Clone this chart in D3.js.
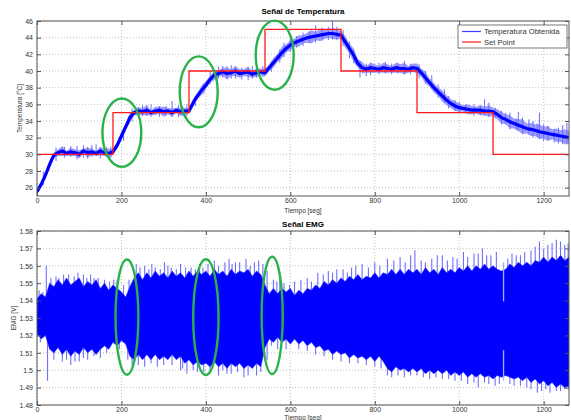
<!DOCTYPE html>
<html>
<head>
<meta charset="utf-8">
<script src="https://cdn.jsdelivr.net/npm/d3@7"></script>
<style>
  body { margin: 0; background: #fff; }
  svg text { font-family: "Liberation Sans", Arial, sans-serif; }
</style>
</head>
<body>
<svg id="chart" width="571" height="420"></svg>
<script>
// sample times (s), one reading every 10 s
const sampleTime = d3.range(0, 1261, 10)

// temperature, every 10 s (°C)
const tempMid = [
  25.5, 26.4, 27.5, 28.8, 29.9, 30.2, 30.4, 30.1, 30.3, 30.2,
  30.0, 30.4, 30.2, 30.3, 30.1, 30.4, 30.2, 30.1, 30.3, 31.1,
  32.2, 33.3, 34.4, 35.0, 35.2, 35.1, 35.3, 35.0, 35.2, 35.3,
  35.1, 35.2, 35.0, 35.3, 35.1, 35.2, 35.2, 36.2, 37.0, 37.7,
  38.3, 39.0, 39.5, 39.7, 39.9, 39.7, 39.8, 40.0, 39.7, 39.8,
  39.9, 39.6, 39.8, 39.9, 39.8, 40.4, 41.0, 41.6, 42.2, 42.7,
  43.1, 43.4, 43.6, 43.8, 44.0, 44.1, 44.2, 44.3, 44.4, 44.5,
  44.5, 44.4, 44.3, 43.5, 42.7, 41.9, 40.9, 40.4, 40.2, 40.4,
  40.3, 40.2, 40.4, 40.3, 40.2, 40.4, 40.3, 40.3, 40.2, 40.4,
  40.3, 39.8, 39.2, 38.6, 38.0, 37.5, 37.0, 36.5, 36.1, 35.8,
  35.6, 35.5, 35.4, 35.3, 35.3, 35.3, 35.2, 35.2, 35.1, 34.8,
  34.4, 34.2, 33.9, 33.7, 33.5, 33.3, 33.1, 33.0, 32.9, 32.7,
  32.6, 32.5, 32.4, 32.3, 32.2, 32.1, 32.0
]
// half width of the fuzzy noise band around it (°C)
const tempNoise = [
  0.2, 0.4, 0.3, 0.5, 0.3, 0.4, 0.6, 0.3, 0.5, 0.4,
  0.5, 0.3, 0.6, 0.4, 0.3, 0.5, 0.4, 0.6, 0.3, 0.4,
  0.5, 0.4, 0.6, 0.3, 0.5, 0.4, 0.6, 0.3, 0.5, 0.4,
  0.6, 0.4, 0.5, 0.3, 0.5, 0.4, 0.3, 0.5, 0.4, 0.6,
  0.5, 0.4, 0.6, 0.4, 0.5, 0.7, 0.4, 0.6, 0.5, 0.4,
  0.6, 0.4, 0.5, 0.4, 0.5, 0.4, 0.6, 0.5, 0.7, 0.5,
  0.6, 0.5, 0.7, 0.5, 0.6, 0.8, 0.5, 0.7, 0.6, 0.5,
  0.7, 0.6, 0.5, 0.7, 0.6, 0.8, 0.5, 0.7, 0.4, 0.6,
  0.5, 0.4, 0.6, 0.5, 0.4, 0.6, 0.5, 0.7, 0.4, 0.5,
  0.6, 0.5, 0.7, 0.5, 0.6, 0.5, 0.7, 0.6, 0.5, 0.6,
  0.5, 0.4, 0.6, 0.5, 0.4, 0.6, 0.5, 0.7, 0.5, 0.6,
  0.7, 0.6, 0.8, 0.6, 0.7, 0.9, 0.6, 0.8, 0.7, 0.9,
  0.7, 0.9, 0.6, 0.8, 0.7, 0.9, 0.8
]
// visible noise spikes of the temperature: [t, low, high]
const tempSpikes = [
  [15, 26.3, 27.9], [45, 29.2, 30.8], [65, 29.6, 30.9], [80, 29.7, 31.0], [95, 29.4, 31.0],
  [110, 29.6, 31.1], [120, 29.5, 30.9], [130, 29.7, 31.1], [140, 29.8, 31.2], [150, 29.5, 30.8],
  [165, 29.8, 30.9], [175, 29.6, 30.9], [205, 31.6, 33.0], [225, 34.0, 35.5], [250, 34.6, 35.9],
  [260, 34.6, 35.9], [270, 34.5, 36.0], [290, 34.5, 35.8], [305, 34.6, 35.8], [320, 34.5, 36.4],
  [335, 34.5, 35.9], [345, 34.6, 35.7], [355, 34.6, 36.0], [375, 35.8, 37.0], [395, 37.3, 38.5],
  [410, 38.4, 39.9], [430, 39.1, 40.5], [440, 39.2, 40.6], [450, 39.0, 40.6], [460, 39.1, 40.7],
  [470, 39.1, 40.5], [485, 39.0, 40.4], [500, 38.9, 40.5], [510, 39.1, 40.6], [520, 39.2, 40.4],
  [535, 39.3, 40.6], [555, 39.9, 41.1], [575, 41.0, 42.6], [585, 41.7, 43.4], [600, 42.3, 43.9],
  [615, 42.8, 44.2], [630, 43.0, 44.6], [645, 43.4, 44.8], [660, 43.4, 45.5], [675, 43.6, 45.2],
  [690, 43.7, 45.3], [700, 43.8, 46.0], [710, 43.7, 45.3], [725, 43.0, 44.9], [740, 41.5, 43.5],
  [750, 40.9, 42.6], [765, 39.2, 41.2], [780, 39.4, 40.9], [790, 39.5, 41.0], [810, 39.6, 41.0],
  [825, 39.7, 41.1], [840, 39.6, 40.9], [855, 39.7, 41.0], [870, 39.6, 41.2], [885, 39.6, 40.9],
  [905, 39.1, 40.8], [920, 38.5, 40.0], [935, 37.9, 39.5], [950, 36.8, 38.4], [965, 36.3, 37.8],
  [975, 35.5, 37.0], [990, 35.2, 36.5], [1000, 35.0, 36.3], [1015, 35.0, 36.0], [1035, 34.6, 36.0],
  [1050, 34.7, 35.9], [1060, 34.6, 36.6], [1070, 34.5, 36.2], [1085, 34.3, 35.6], [1100, 33.6, 35.2],
  [1110, 33.6, 35.0], [1120, 33.0, 35.0], [1135, 32.9, 34.3], [1140, 32.8, 35.1], [1150, 32.5, 34.4],
  [1165, 32.4, 34.2], [1175, 32.0, 34.0], [1185, 32.1, 33.7], [1190, 31.9, 35.0], [1200, 31.6, 33.6],
  [1210, 31.7, 33.4], [1225, 31.4, 33.0], [1235, 31.3, 33.2], [1245, 31.2, 33.5], [1255, 31.3, 33.8]
]
// set point steps
const spTime = [0, 180, 360, 540, 720, 900, 1080, 1260]
const spValue = [30, 35, 40, 45, 40, 35, 30, 30]

// EMG dense band edges, every 10 s (V)
const emgHi = [
  1.541, 1.544, 1.542, 1.550, 1.548, 1.552, 1.549, 1.553, 1.549, 1.551,
  1.553, 1.548, 1.551, 1.549, 1.552, 1.547, 1.550, 1.546, 1.549, 1.547,
  1.545, 1.542, 1.548, 1.553, 1.556, 1.552, 1.556, 1.553, 1.557, 1.554,
  1.556, 1.553, 1.557, 1.554, 1.556, 1.553, 1.557, 1.554, 1.557, 1.555,
  1.557, 1.554, 1.558, 1.555, 1.557, 1.554, 1.558, 1.555, 1.557, 1.556,
  1.558, 1.554, 1.557, 1.555, 1.549, 1.544, 1.547, 1.544, 1.547, 1.545,
  1.547, 1.543, 1.546, 1.544, 1.547, 1.546, 1.549, 1.547, 1.551, 1.549,
  1.552, 1.550, 1.553, 1.551, 1.554, 1.552, 1.555, 1.552, 1.554, 1.553,
  1.556, 1.553, 1.556, 1.555, 1.558, 1.555, 1.558, 1.555, 1.558, 1.556,
  1.558, 1.555, 1.559, 1.556, 1.558, 1.555, 1.559, 1.556, 1.558, 1.556,
  1.559, 1.557, 1.560, 1.557, 1.560, 1.558, 1.561, 1.558, 1.560, 1.558,
  1.557, 1.558, 1.561, 1.559, 1.562, 1.560, 1.562, 1.560, 1.563, 1.562,
  1.565, 1.562, 1.565, 1.563, 1.566, 1.563, 1.565
]
const emgLo = [
  1.521, 1.518, 1.520, 1.512, 1.510, 1.513, 1.509, 1.512, 1.508, 1.511,
  1.509, 1.513, 1.510, 1.512, 1.509, 1.512, 1.514, 1.512, 1.516, 1.514,
  1.517, 1.515, 1.508, 1.506, 1.509, 1.506, 1.509, 1.506, 1.509, 1.506,
  1.508, 1.506, 1.509, 1.506, 1.508, 1.504, 1.506, 1.503, 1.505, 1.503,
  1.504, 1.502, 1.505, 1.502, 1.504, 1.501, 1.504, 1.502, 1.504, 1.501,
  1.503, 1.501, 1.504, 1.502, 1.513, 1.518, 1.516, 1.519, 1.516, 1.518,
  1.515, 1.518, 1.515, 1.517, 1.514, 1.516, 1.513, 1.514, 1.511, 1.512,
  1.509, 1.511, 1.509, 1.510, 1.507, 1.509, 1.507, 1.508, 1.506, 1.508,
  1.505, 1.508, 1.505, 1.501, 1.499, 1.502, 1.500, 1.501, 1.499, 1.501,
  1.499, 1.501, 1.498, 1.500, 1.498, 1.500, 1.498, 1.500, 1.497, 1.499,
  1.497, 1.499, 1.496, 1.498, 1.496, 1.498, 1.496, 1.497, 1.495, 1.497,
  1.496, 1.497, 1.496, 1.495, 1.496, 1.494, 1.496, 1.493, 1.495, 1.492,
  1.494, 1.491, 1.493, 1.490, 1.492, 1.490, 1.491
]
// EMG spike tips: [t, value]
const emgSpikes = [
  [5, 1.546], [14, 1.545], [22, 1.560], [33, 1.553], [45, 1.554], [52, 1.553], [63, 1.555],
  [75, 1.555], [88, 1.554], [97, 1.556], [110, 1.555], [118, 1.553], [127, 1.555], [135, 1.553],
  [145, 1.553], [160, 1.552], [172, 1.551], [182, 1.552], [190, 1.552], [205, 1.549], [218, 1.552],
  [235, 1.561], [244, 1.559], [255, 1.560], [265, 1.558], [272, 1.561], [280, 1.559], [292, 1.558],
  [302, 1.562], [310, 1.560], [318, 1.559], [330, 1.558], [340, 1.561], [352, 1.559], [365, 1.559],
  [375, 1.558], [385, 1.561], [393, 1.559], [405, 1.561], [420, 1.563], [430, 1.560], [445, 1.562],
  [455, 1.564], [462, 1.561], [470, 1.562], [480, 1.562], [495, 1.564], [505, 1.560], [515, 1.562],
  [525, 1.563], [535, 1.561], [545, 1.557], [560, 1.552], [568, 1.551], [575, 1.553], [585, 1.550],
  [598, 1.549], [610, 1.551], [625, 1.552], [640, 1.553], [650, 1.551], [665, 1.556], [678, 1.555],
  [690, 1.557], [700, 1.556], [710, 1.558], [725, 1.558], [735, 1.556], [745, 1.559], [755, 1.560],
  [770, 1.561], [785, 1.559], [800, 1.562], [812, 1.560], [830, 1.564], [845, 1.563], [860, 1.565],
  [872, 1.562], [885, 1.566], [895, 1.569], [910, 1.563], [920, 1.562], [935, 1.564], [948, 1.566],
  [960, 1.566], [972, 1.563], [985, 1.565], [995, 1.564], [1010, 1.568], [1020, 1.565], [1035, 1.567],
  [1045, 1.567], [1055, 1.570], [1065, 1.566], [1075, 1.566], [1088, 1.568], [1115, 1.564], [1125, 1.567],
  [1135, 1.566], [1145, 1.566], [1155, 1.568], [1170, 1.569], [1180, 1.571], [1190, 1.574], [1200, 1.570],
  [1210, 1.572], [1220, 1.573], [1230, 1.575], [1240, 1.574], [1250, 1.572], [1258, 1.573],
  [8, 1.516], [25, 1.494], [40, 1.506], [60, 1.505], [70, 1.506], [80, 1.503], [90, 1.505],
  [100, 1.505], [110, 1.507], [120, 1.506], [135, 1.508], [150, 1.507], [165, 1.510], [195, 1.512],
  [215, 1.506], [225, 1.503], [240, 1.503], [255, 1.502], [270, 1.504], [285, 1.502], [300, 1.503],
  [320, 1.503], [340, 1.500], [345, 1.501], [355, 1.498], [370, 1.500], [380, 1.499], [395, 1.499],
  [410, 1.499], [430, 1.497], [440, 1.500], [450, 1.498], [460, 1.498], [475, 1.499], [490, 1.496],
  [500, 1.497], [520, 1.497], [530, 1.499], [545, 1.506], [555, 1.514], [570, 1.512], [590, 1.512],
  [620, 1.512], [640, 1.511], [660, 1.509], [680, 1.508], [700, 1.506], [720, 1.505], [740, 1.504],
  [760, 1.504], [780, 1.503], [800, 1.502], [815, 1.501], [830, 1.497], [840, 1.496], [855, 1.497],
  [870, 1.496], [885, 1.497], [900, 1.497], [915, 1.496], [930, 1.495], [945, 1.496], [960, 1.495],
  [975, 1.495], [990, 1.494], [1005, 1.494], [1020, 1.492], [1035, 1.493], [1045, 1.490], [1060, 1.493],
  [1070, 1.492], [1085, 1.491], [1095, 1.492], [1120, 1.492], [1130, 1.491], [1145, 1.491], [1160, 1.490],
  [1170, 1.489], [1185, 1.487], [1195, 1.488], [1205, 1.489], [1215, 1.487], [1230, 1.488], [1240, 1.488],
  [1250, 1.489], [1258, 1.489]
]
// short drop-out of the EMG at t = 1105 s: [t, top of gap, bottom of gap]
const emgDip = [[1105, 1.5395, 1.5115]]

// green highlight ellipses: [t, value, half-width s, half-height]
const tempMarks = [[201, 32.6, 46, 4.1], [383, 37.5, 45, 4.25], [563, 41.9, 45, 4.15]]
const emgMarks = [[213, 1.5305, 27, 0.0331], [400, 1.5305, 30, 0.0333], [557, 1.5315, 25, 0.0337]]

const xTicks = [0, 200, 400, 600, 800, 1000, 1200]
const tempTicks = [26, 28, 30, 32, 34, 36, 38, 40, 42, 44, 46]
const emgTicks = [1.48, 1.49, 1.5, 1.51, 1.52, 1.53, 1.54, 1.55, 1.56, 1.57, 1.58]

const svg = d3.select("#chart")
const x = d3.scaleLinear().domain([0, 1260]).range([37, 569])
const yTemp = d3.scaleLinear().domain([25, 46]).range([196, 21])
const yEmg = d3.scaleLinear().domain([1.48, 1.58]).range([405, 231])

function frame(id, y, yTicks) {
  let top = y.range()[1], bottom = y.range()[0]
  let g = svg.append("g")
  svg.append("clipPath").attr("id", id).append("rect")
    .attr("x", x.range()[0]).attr("y", top)
    .attr("width", x.range()[1] - x.range()[0]).attr("height", bottom - top)
  // dotted grid
  g.selectAll(".gx").data(xTicks).enter().append("line")
    .attr("x1", d => x(d)).attr("x2", d => x(d)).attr("y1", top).attr("y2", bottom)
    .attr("stroke", "#b4b4b4").attr("stroke-dasharray", "1,2").attr("stroke-width", 0.8)
  g.selectAll(".gy").data(yTicks).enter().append("line")
    .attr("x1", x.range()[0]).attr("x2", x.range()[1]).attr("y1", d => y(d)).attr("y2", d => y(d))
    .attr("stroke", "#b4b4b4").attr("stroke-dasharray", "1,2").attr("stroke-width", 0.8)
  return g
}

function axes(y, yTicks, fmt) {
  let top = y.range()[1], bottom = y.range()[0]
  let style = sel => {
    sel.select(".domain").remove()
    sel.selectAll("line").attr("stroke", "#555")
    sel.selectAll("text").attr("fill", "#333").style("font-size", "7px")
  }
  svg.append("g").attr("transform", `translate(0,${bottom})`)
    .call(d3.axisBottom(x).tickValues(xTicks).tickSize(-4).tickPadding(2.5).tickFormat(d3.format("d"))).call(style)
  svg.append("g").attr("transform", `translate(0,${top})`)
    .call(d3.axisTop(x).tickValues(xTicks).tickSize(-4).tickFormat("")).call(style)
  svg.append("g").attr("transform", `translate(${x.range()[0]},0)`)
    .call(d3.axisLeft(y).tickValues(yTicks).tickSize(-4).tickPadding(4).tickFormat(fmt)).call(style)
  svg.append("g").attr("transform", `translate(${x.range()[1]},0)`)
    .call(d3.axisRight(y).tickValues(yTicks).tickSize(-4).tickFormat("")).call(style)
  svg.append("rect").attr("x", x.range()[0]).attr("y", top)
    .attr("width", x.range()[1] - x.range()[0]).attr("height", bottom - top)
    .attr("fill", "none").attr("stroke", "#555").attr("stroke-width", 1)
}

function ellipses(data, y) {
  svg.selectAll(null).data(data).enter().append("ellipse")
    .attr("cx", d => x(d[0])).attr("cy", d => y(d[1]))
    .attr("rx", d => x(d[0] + d[2]) - x(d[0])).attr("ry", d => y(d[1]) - y(d[1] + d[3]))
    .attr("fill", "none").attr("stroke", "#2ab24a").attr("stroke-width", 2.4)
}

// ---- temperature panel
let g1 = frame("clipTemp", yTemp, tempTicks)
let d1 = g1.append("g").attr("clip-path", "url(#clipTemp)")
d1.append("path").datum(tempMid)
  .attr("d", d3.area().x((d, i) => x(sampleTime[i]))
    .y0((d, i) => yTemp(d - tempNoise[i])).y1((d, i) => yTemp(d + tempNoise[i])))
  .attr("fill", "#7b7bff").attr("fill-opacity", 0.75)
d1.selectAll(".sp").data(tempSpikes).enter().append("line")
  .attr("x1", d => x(d[0])).attr("x2", d => x(d[0]))
  .attr("y1", d => yTemp(d[1])).attr("y2", d => yTemp(d[2]))
  .attr("stroke", "#6c6cff").attr("stroke-width", 1)
d1.append("path").datum(tempMid)
  .attr("d", d3.line().x((d, i) => x(sampleTime[i])).y(d => yTemp(d)))
  .attr("fill", "none").attr("stroke", "#0000ff").attr("stroke-width", 3.2)
d1.append("path").datum(spValue)
  .attr("d", d3.line().curve(d3.curveStepAfter).x((d, i) => x(spTime[i])).y(d => yTemp(d)))
  .attr("fill", "none").attr("stroke", "#ff1a1a").attr("stroke-width", 1.3)
axes(yTemp, tempTicks, d3.format("d"))
ellipses(tempMarks, yTemp)

// legend
let lg = svg.append("g")
lg.append("rect").attr("x", 458).attr("y", 25).attr("width", 109).attr("height", 23)
  .attr("fill", "#fff").attr("stroke", "#555").attr("stroke-width", 0.8)
let legendItems = [["Temperatura Obtenida", "#3b3bff"], ["Set Point", "#ff1a1a"]]
legendItems.forEach((it, i) => {
  let yy = 31.5 + i * 10.5
  lg.append("line").attr("x1", 462).attr("x2", 481).attr("y1", yy).attr("y2", yy)
    .attr("stroke", it[1]).attr("stroke-width", 1.2)
  lg.append("text").attr("x", 484).attr("y", yy + 2.6).text(it[0])
    .style("font-size", "7.6px").attr("fill", "#333")
})

// ---- EMG panel
let g2 = frame("clipEmg", yEmg, emgTicks)
let d2 = g2.append("g").attr("clip-path", "url(#clipEmg)")
d2.selectAll(".sp").data(emgSpikes).enter().append("line")
  .attr("x1", d => x(d[0])).attr("x2", d => x(d[0]))
  .attr("y1", yEmg(1.53)).attr("y2", d => yEmg(d[1]))
  .attr("stroke", "#7070ff").attr("stroke-width", 1.1)
d2.append("path").datum(emgHi)
  .attr("d", d3.area().x((d, i) => x(sampleTime[i])).y0((d, i) => yEmg(emgLo[i])).y1(d => yEmg(d)))
  .attr("fill", "#0000ff").attr("stroke", "#2a2aff").attr("stroke-width", 0.6)
// the drop-out shows as a pale sliver cutting into the band
d2.selectAll(".dip").data(emgDip).enter().append("g").each(function (d) {
  let s = d3.select(this)
  s.append("line").attr("x1", x(d[0])).attr("x2", x(d[0]))
    .attr("y1", yEmg(1.562)).attr("y2", yEmg(d[1])).attr("stroke", "#a8a8ff").attr("stroke-width", 1.3)
  s.append("line").attr("x1", x(d[0])).attr("x2", x(d[0]))
    .attr("y1", yEmg(d[2])).attr("y2", yEmg(1.494)).attr("stroke", "#a8a8ff").attr("stroke-width", 1.3)
})
axes(yEmg, emgTicks, d3.format("~g"))
ellipses(emgMarks, yEmg)

// titles and labels
let cx = (x.range()[0] + x.range()[1]) / 2
svg.append("text").attr("x", cx).attr("y", 14).attr("text-anchor", "middle")
  .style("font-size", "8px").style("font-weight", "bold").text("Señal de Temperatura")
svg.append("text").attr("x", cx).attr("y", 227).attr("text-anchor", "middle")
  .style("font-size", "8px").style("font-weight", "bold").text("Señal EMG")
svg.append("text").attr("x", cx).attr("y", 212.5).attr("text-anchor", "middle")
  .style("font-size", "6.5px").attr("fill", "#333").text("Tiempo [seg]")
svg.append("text").attr("x", cx).attr("y", 420).attr("text-anchor", "middle")
  .style("font-size", "6.5px").attr("fill", "#333").text("Tiempo [seg]")
svg.append("text").attr("transform", `translate(22,${yTemp(35.5)}) rotate(-90)`).attr("text-anchor", "middle")
  .style("font-size", "6.5px").attr("fill", "#333").text("Temperatura [°C]")
svg.append("text").attr("transform", `translate(16,${yEmg(1.53)}) rotate(-90)`).attr("text-anchor", "middle")
  .style("font-size", "6.5px").attr("fill", "#333").text("EMG [V]")
</script>
</body>
</html>
